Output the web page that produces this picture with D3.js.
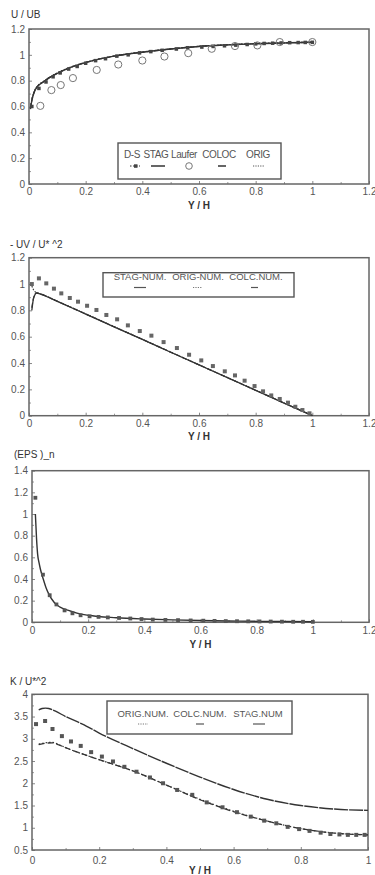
<!DOCTYPE html>
<html>
<head>
<meta charset="utf-8">
<script src="https://cdn.jsdelivr.net/npm/d3@7"></script>
<style>
  body { margin: 0; background: #fff; }
  svg { display: block; font-family: "Liberation Sans", Arial, sans-serif; }
</style>
</head>
<body>
<svg id="chart" width="375" height="875"></svg>
<script>
// ---- panel 1 : mean velocity U/UB ----
const yhU = [0.005, 0.01, 0.02, 0.03, 0.05, 0.07, 0.1, 0.15, 0.2, 0.3, 0.4, 0.5, 0.6, 0.7, 0.8, 0.9, 1.0];
const uStag = [0.58, 0.645, 0.72, 0.755, 0.79, 0.82, 0.857, 0.905, 0.94, 0.99, 1.02, 1.045, 1.065, 1.077, 1.086, 1.092, 1.097];
const uColoc = [0.585, 0.65, 0.722, 0.757, 0.79, 0.822, 0.858, 0.906, 0.941, 0.99, 1.021, 1.045, 1.065, 1.077, 1.086, 1.092, 1.097];
const uOrig = [0.59, 0.652, 0.724, 0.758, 0.792, 0.823, 0.86, 0.907, 0.942, 0.991, 1.022, 1.046, 1.066, 1.078, 1.087, 1.093, 1.098];
const yhUDs = [0.01, 0.035, 0.06, 0.085, 0.11, 0.14, 0.17, 0.2, 0.235, 0.27, 0.31, 0.35, 0.39, 0.43, 0.47, 0.52, 0.56, 0.61, 0.65, 0.69, 0.73, 0.77, 0.8, 0.83, 0.86, 0.89, 0.92, 0.95, 0.975, 1.0];
const uDs = [0.6, 0.74, 0.79, 0.83, 0.86, 0.89, 0.91, 0.935, 0.955, 0.97, 0.99, 1.0, 1.015, 1.025, 1.035, 1.045, 1.055, 1.06, 1.065, 1.07, 1.075, 1.08, 1.085, 1.088, 1.09, 1.092, 1.094, 1.095, 1.096, 1.097];
const yhLaufer = [0.04, 0.079, 0.112, 0.155, 0.239, 0.315, 0.4, 0.478, 0.562, 0.645, 0.727, 0.806, 0.885, 1.0];
const uLaufer = [0.605, 0.727, 0.766, 0.82, 0.883, 0.925, 0.956, 0.987, 1.013, 1.047, 1.068, 1.073, 1.099, 1.099];

// ---- panel 2 : shear stress -UV/U*^2 ----
const yhUv = [0.01, 0.015, 0.02, 0.026, 0.04, 0.1, 0.2, 0.3, 0.4, 0.5, 0.6, 0.7, 0.8, 0.9, 1.0];
const uvStag = [0.8, 0.88, 0.915, 0.932, 0.924, 0.868, 0.772, 0.675, 0.579, 0.482, 0.386, 0.289, 0.193, 0.096, 0.0];
const uvOrig = [0.985, 0.96, 0.945, 0.936, 0.926, 0.87, 0.774, 0.677, 0.58, 0.483, 0.387, 0.29, 0.194, 0.097, 0.002];
const uvColc = [0.82, 0.885, 0.918, 0.933, 0.925, 0.869, 0.773, 0.676, 0.58, 0.483, 0.386, 0.29, 0.193, 0.097, 0.001];
const yhUvDns = [0.01, 0.035, 0.061, 0.088, 0.114, 0.144, 0.173, 0.205, 0.238, 0.273, 0.311, 0.349, 0.391, 0.432, 0.475, 0.522, 0.565, 0.608, 0.649, 0.691, 0.727, 0.761, 0.796, 0.826, 0.855, 0.885, 0.914, 0.94, 0.965, 0.99];
const uvDns = [1.0, 1.043, 1.005, 0.965, 0.929, 0.894, 0.866, 0.835, 0.803, 0.765, 0.732, 0.686, 0.643, 0.608, 0.559, 0.514, 0.463, 0.42, 0.377, 0.337, 0.306, 0.266, 0.225, 0.185, 0.154, 0.127, 0.099, 0.068, 0.043, 0.018];

// ---- panel 3 : dissipation (EPS)_n ----
const yhEps = [0.012, 0.016, 0.02, 0.025, 0.03, 0.04, 0.05, 0.06, 0.08, 0.1, 0.13, 0.16, 0.2, 0.3, 0.4, 0.5, 0.6, 0.7, 0.8, 0.9, 1.0];
const epsNum = [1.0, 0.78, 0.63, 0.55, 0.49, 0.4, 0.32, 0.26, 0.18, 0.14, 0.11, 0.085, 0.065, 0.042, 0.03, 0.022, 0.016, 0.012, 0.009, 0.007, 0.005];
const yhEpsDns = [0.012, 0.039, 0.063, 0.087, 0.116, 0.144, 0.173, 0.205, 0.237, 0.27, 0.31, 0.35, 0.39, 0.43, 0.475, 0.52, 0.565, 0.61, 0.65, 0.69, 0.73, 0.77, 0.81, 0.85, 0.89, 0.93, 0.965, 1.0];
const epsDns = [1.15, 0.44, 0.25, 0.165, 0.11, 0.083, 0.065, 0.055, 0.05, 0.045, 0.04, 0.035, 0.03, 0.025, 0.022, 0.02, 0.017, 0.015, 0.013, 0.011, 0.01, 0.009, 0.008, 0.007, 0.006, 0.005, 0.005, 0.004];

// ---- panel 4 : turbulent kinetic energy K/U*^2 ----
const yhKStag = [0.02, 0.03, 0.04, 0.05, 0.07, 0.1, 0.15, 0.2, 0.3, 0.4, 0.5, 0.6, 0.7, 0.8, 0.9, 1.0];
const kStag = [3.65, 3.68, 3.69, 3.68, 3.62, 3.5, 3.33, 3.13, 2.78, 2.45, 2.14, 1.86, 1.64, 1.5, 1.42, 1.39];
const yhKLow = [0.02, 0.04, 0.06, 0.08, 0.1, 0.15, 0.2, 0.3, 0.4, 0.5, 0.6, 0.7, 0.8, 0.9, 1.0];
const kOrig = [2.88, 2.91, 2.92, 2.87, 2.8, 2.66, 2.53, 2.28, 1.96, 1.64, 1.37, 1.15, 0.98, 0.88, 0.84];
const kColc = [2.87, 2.9, 2.91, 2.86, 2.8, 2.66, 2.53, 2.28, 1.96, 1.63, 1.36, 1.15, 0.98, 0.88, 0.84];
const yhKDns = [0.012, 0.039, 0.061, 0.089, 0.116, 0.145, 0.176, 0.208, 0.241, 0.275, 0.311, 0.351, 0.39, 0.432, 0.477, 0.52, 0.567, 0.61, 0.651, 0.691, 0.727, 0.761, 0.795, 0.826, 0.859, 0.888, 0.915, 0.94, 0.965, 0.99];
const kDns = [3.33, 3.4, 3.22, 3.06, 2.94, 2.84, 2.7, 2.6, 2.49, 2.37, 2.26, 2.13, 2.0, 1.85, 1.74, 1.57, 1.46, 1.35, 1.25, 1.16, 1.1, 1.02, 0.97, 0.93, 0.89, 0.86, 0.85, 0.84, 0.84, 0.84];

// tick labels
const xTicks12 = [0, 0.2, 0.4, 0.6, 0.8, 1, 1.2];
const xTicks10 = [0, 0.2, 0.4, 0.6, 0.8, 1];
const yTicksU = [0, 0.2, 0.4, 0.6, 0.8, 1, 1.2];
const yTicksEps = [0, 0.2, 0.4, 0.6, 0.8, 1, 1.2, 1.4];
const yTicksK = [0.5, 1, 1.5, 2, 2.5, 3, 3.5, 4];

// legend entries
const legendU = ["D-S", "STAG", "Laufer", "COLOC", "ORIG"];
const legendUv = ["STAG-NUM.", "ORIG-NUM.", "COLC.NUM."];
const legendK = ["ORIG.NUM.", "COLC.NUM.", "STAG.NUM"];

const svg = d3.select("#chart");
const ink = "#333";
const grey = "#555";

const zip = (xs, ys) => xs.map((x, i) => [x, ys[i]]);

/**
 * Draws one framed panel with axes and returns its scales and group
 */
function panel(cfg) {
    const x = d3.scaleLinear().domain(cfg.xDomain).range([cfg.left, cfg.right]);
    const y = d3.scaleLinear().domain(cfg.yDomain).range([cfg.bottom, cfg.top]);
    const g = svg.append("g");

    // minor ticks (half steps)
    const xStep = cfg.xTicks[1] - cfg.xTicks[0];
    const yStep = cfg.yTicks[1] - cfg.yTicks[0];
    const xMinor = cfg.xTicks.slice(0, -1).map(t => t + xStep / 2);
    const yMinor = cfg.yTicks.slice(0, -1).map(t => t + yStep / 2);

    g.append("g")
        .attr("transform", "translate(0," + cfg.bottom + ")")
        .call(d3.axisBottom(x).tickValues(xMinor).tickSize(-2).tickFormat(""))
        .call(a => a.select(".domain").remove())
        .call(a => a.selectAll("line").attr("stroke", "#999"));
    g.append("g")
        .attr("transform", "translate(" + cfg.left + ",0)")
        .call(d3.axisLeft(y).tickValues(yMinor).tickSize(-2).tickFormat(""))
        .call(a => a.select(".domain").remove())
        .call(a => a.selectAll("line").attr("stroke", "#999"));

    g.append("g")
        .attr("transform", "translate(0," + cfg.bottom + ")")
        .call(d3.axisBottom(x).tickValues(cfg.xTicks).tickSize(-3).tickPadding(cfg.xPad).tickFormat(d => String(d)))
        .call(a => a.select(".domain").remove())
        .call(a => a.selectAll("line").attr("stroke", "#888"))
        .call(a => a.selectAll("text").attr("fill", grey).attr("font-size", 10).attr("font-family", null));
    g.append("g")
        .attr("transform", "translate(" + cfg.left + ",0)")
        .call(d3.axisLeft(y).tickValues(cfg.yTicks).tickSize(-3).tickPadding(4).tickFormat(d => String(d)))
        .call(a => a.select(".domain").remove())
        .call(a => a.selectAll("line").attr("stroke", "#888"))
        .call(a => a.selectAll("text").attr("fill", grey).attr("font-size", 10).attr("font-family", null));

    g.append("rect")
        .attr("x", cfg.left).attr("y", cfg.top)
        .attr("width", cfg.right - cfg.left).attr("height", cfg.bottom - cfg.top)
        .attr("fill", "none").attr("stroke", "#666").attr("stroke-width", 1.5);

    g.append("text")
        .attr("x", cfg.titleX).attr("y", cfg.titleY)
        .attr("font-size", 10).attr("fill", ink)
        .text(cfg.title);
    g.append("text")
        .attr("x", (cfg.left + cfg.right) / 2).attr("y", cfg.xLabelY)
        .attr("text-anchor", "middle").attr("font-size", 10).attr("font-weight", "bold").attr("fill", ink)
        .text("Y / H");

    return { x, y, g };
}

function drawLine(p, pts, dash, width) {
    p.g.append("path")
        .datum(pts)
        .attr("fill", "none")
        .attr("stroke", ink)
        .attr("stroke-width", width || 1.3)
        .attr("stroke-dasharray", dash || null)
        .attr("d", d3.line().x(d => p.x(d[0])).y(d => p.y(d[1])).curve(d3.curveMonotoneX));
}

function drawSquares(p, pts, size, fill) {
    p.g.append("g")
        .selectAll("rect")
        .data(pts)
        .enter().append("rect")
        .attr("x", d => p.x(d[0]) - size / 2)
        .attr("y", d => p.y(d[1]) - size / 2)
        .attr("width", size).attr("height", size)
        .attr("fill", fill || "#5a5a5a");
}

function legendBox(box, labels, centers, textY, fontSize, spacing) {
    const lg = svg.append("g");
    lg.append("rect")
        .attr("x", box[0]).attr("y", box[1])
        .attr("width", box[2] - box[0]).attr("height", box[3] - box[1])
        .attr("fill", "#fff").attr("stroke", "#555").attr("stroke-width", 1.4);
    lg.selectAll("text")
        .data(labels)
        .enter().append("text")
        .attr("x", (d, i) => centers[i])
        .attr("y", textY)
        .attr("text-anchor", "middle")
        .attr("font-size", fontSize)
        .attr("letter-spacing", spacing || 0)
        .attr("fill", grey)
        .text(d => d);
    return lg;
}

// ---------------- panel 1 ----------------
const p1 = panel({
    xDomain: [0, 1.2], yDomain: [0, 1.2], left: 29, right: 369, top: 29, bottom: 184,
    xTicks: xTicks12, yTicks: yTicksU, xPad: 4,
    title: "U / UB", titleX: 11, titleY: 18, xLabelY: 209
});
drawLine(p1, zip(yhU, uOrig), "1.5,1.5", 1.2);
drawLine(p1, zip(yhU, uColoc), "5,2", 1.3);
drawLine(p1, zip(yhU, uStag), null, 1.4);
drawSquares(p1, zip(yhUDs, uDs), 3.5, "#444");
p1.g.append("g")
    .selectAll("circle")
    .data(zip(yhLaufer, uLaufer))
    .enter().append("circle")
    .attr("cx", d => p1.x(d[0])).attr("cy", d => p1.y(d[1]))
    .attr("r", 3.6)
    .attr("fill", "none").attr("stroke", "#777").attr("stroke-width", 1);

const lg1 = legendBox([118, 143, 281, 179], legendU, [132, 156, 184, 219, 258], 158, 10, -0.4);
lg1.append("line").attr("x1", 130).attr("x2", 140).attr("y1", 166).attr("y2", 166).attr("stroke", ink).attr("stroke-dasharray", "1.5,1.5");
lg1.append("rect").attr("x", 134).attr("y", 164.3).attr("width", 3.5).attr("height", 3.5).attr("fill", "#444");
lg1.append("line").attr("x1", 151).attr("x2", 165).attr("y1", 166).attr("y2", 166).attr("stroke", ink).attr("stroke-width", 1.5);
lg1.append("circle").attr("cx", 189).attr("cy", 166).attr("r", 3.3).attr("fill", "none").attr("stroke", "#777");
lg1.append("line").attr("x1", 218).attr("x2", 226).attr("y1", 166).attr("y2", 166).attr("stroke", ink).attr("stroke-width", 1.5);
lg1.append("line").attr("x1", 253).attr("x2", 264).attr("y1", 166).attr("y2", 166).attr("stroke", "#555").attr("stroke-dasharray", "1.2,1.2");

// ---------------- panel 2 ----------------
const p2 = panel({
    xDomain: [0, 1.2], yDomain: [0, 1.2], left: 29, right: 369, top: 257.7, bottom: 415.7,
    xTicks: xTicks12, yTicks: yTicksU, xPad: 4.5,
    title: "- UV / U* ^2", titleX: 10, titleY: 248, xLabelY: 440
});
drawLine(p2, zip(yhUv, uvOrig), "1.5,1.5", 1.1);
drawLine(p2, zip(yhUv, uvColc), "5,2", 1.2);
drawLine(p2, zip(yhUv, uvStag), null, 1.3);
drawSquares(p2, zip(yhUvDns, uvDns), 4, "#666");

const lg2 = legendBox([103, 272.7, 294, 297], legendUv, [140, 198, 256], 280, 9.5);
lg2.append("line").attr("x1", 134).attr("x2", 146).attr("y1", 287.5).attr("y2", 287.5).attr("stroke", "#555").attr("stroke-width", 1.2);
lg2.append("line").attr("x1", 193).attr("x2", 202).attr("y1", 287.5).attr("y2", 287.5).attr("stroke", "#777").attr("stroke-dasharray", "1.2,1.2");
lg2.append("line").attr("x1", 251).attr("x2", 258).attr("y1", 287.5).attr("y2", 287.5).attr("stroke", "#555").attr("stroke-width", 1.2);

// ---------------- panel 3 ----------------
const p3 = panel({
    xDomain: [0, 1.2], yDomain: [0, 1.4], left: 32, right: 369, top: 470.7, bottom: 622.3,
    xTicks: xTicks12, yTicks: yTicksEps, xPad: 5,
    title: "(EPS )_n", titleX: 14, titleY: 458, xLabelY: 648
});
drawLine(p3, zip(yhEps, epsNum), null, 1.4);
drawSquares(p3, zip(yhEpsDns, epsDns), 3.8, "#555");

// ---------------- panel 4 ----------------
const p4 = panel({
    xDomain: [0, 1], yDomain: [0.5, 4], left: 32, right: 368, top: 694.3, bottom: 850,
    xTicks: xTicks10, yTicks: yTicksK, xPad: 7,
    title: "K / U*^2", titleX: 10, titleY: 685, xLabelY: 874
});
drawLine(p4, zip(yhKLow, kOrig), "1.5,2", 1.2);
drawLine(p4, zip(yhKLow, kColc), "6,3", 1.3);
drawLine(p4, zip(yhKStag, kStag), "14,1", 1.4);
drawSquares(p4, zip(yhKDns, kDns), 4, "#555");

const lg4 = legendBox([107, 701, 292, 734], legendK, [143, 200, 258], 717, 9.5);
lg4.append("line").attr("x1", 138).attr("x2", 148).attr("y1", 724).attr("y2", 724).attr("stroke", "#777").attr("stroke-dasharray", "1.2,1.2");
lg4.append("line").attr("x1", 196).attr("x2", 204).attr("y1", 724).attr("y2", 724).attr("stroke", "#555").attr("stroke-width", 1.2);
lg4.append("line").attr("x1", 253).attr("x2", 265).attr("y1", 724).attr("y2", 724).attr("stroke", "#555").attr("stroke-width", 1.2);
</script>
</body>
</html>
